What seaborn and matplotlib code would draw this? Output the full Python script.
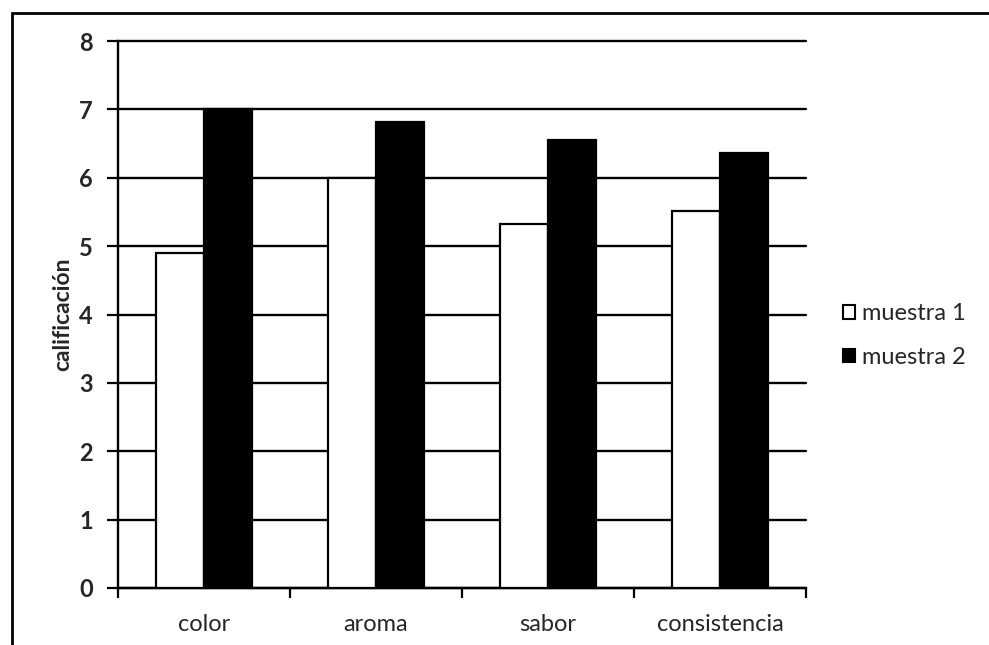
import matplotlib
matplotlib.use("Agg")
import matplotlib.pyplot as plt
from matplotlib.patches import Rectangle, Patch
import pandas as pd
import seaborn as sns

categories = ["color", "aroma", "sabor", "consistencia"]
muestra_1 = [4.9, 6.0, 5.33, 5.52]
muestra_2 = [7.0, 6.82, 6.55, 6.36]
series_names = ["muestra 1", "muestra 2"]
y_ticks = [0, 1, 2, 3, 4, 5, 6, 7, 8]

df = pd.DataFrame({
    "categoria": categories * 2,
    "serie": [series_names[0]] * len(categories) + [series_names[1]] * len(categories),
    "valor": muestra_1 + muestra_2,
})

sns.set_theme(style="white")
plt.rcParams["font.family"] = ["Lato", "DejaVu Sans"]

fig = plt.figure(figsize=(9.89, 6.45), dpi=100)
ax = fig.add_axes([0.1193, 0.0884, 0.6957, 0.848])

sns.barplot(data=df, x="categoria", y="valor", hue="serie", order=categories,
            hue_order=series_names, palette=["white", "black"], width=0.56,
            edgecolor="black", linewidth=1.6, saturation=1, ax=ax, legend=False,
            zorder=3)

ax.set_ylim(0, 8)
ax.set_xlim(-0.5, len(categories) - 0.5)
ax.set_yticks(y_ticks)
ax.set_yticklabels([str(t) for t in y_ticks], fontsize=17, fontweight="bold")
ax.yaxis.grid(True, color="black", linewidth=1.7, zorder=0)
for gl in ax.get_ygridlines():
    gl.set_clip_on(False)
ax.set_axisbelow(True)

# category labels centred, tick marks on the category boundaries
ax.set_xticks(range(len(categories)))
ax.set_xticklabels(categories, fontsize=17)
ax.tick_params(axis="x", length=0, pad=19)
ax.set_xticks([i - 0.5 for i in range(len(categories) + 1)], minor=True)
ax.tick_params(axis="x", which="minor", length=7, width=1.6, color="black",
               direction="out", bottom=True)
ax.tick_params(axis="y", length=8, width=1.6, color="black", direction="out",
               left=True, pad=10)

ax.set_xlabel("")
ax.set_ylabel("calificación", fontsize=16.5, fontweight="bold", labelpad=4)

for side in ["top", "right"]:
    ax.spines[side].set_visible(False)
for side in ["left", "bottom"]:
    ax.spines[side].set_color("black")
    ax.spines[side].set_linewidth(1.7)

handles = [Patch(facecolor="white", edgecolor="black", linewidth=1.5),
           Patch(facecolor="black", edgecolor="black", linewidth=1.5)]
fig.legend(handles, series_names, loc="center left",
           bbox_to_anchor=(0.831, 0.48), frameon=False, fontsize=17,
           handlelength=0.5, handleheight=0.5, handletextpad=0.3,
           labelspacing=0.95)

# outer chart frame
fig.patches.append(Rectangle((12 / 989, -0.1), 1.2, 1 - 13 / 645 + 0.1,
                             transform=fig.transFigure, fill=False,
                             edgecolor="black", linewidth=2.0))

fig.savefig("out.png", dpi=100, facecolor="white")
